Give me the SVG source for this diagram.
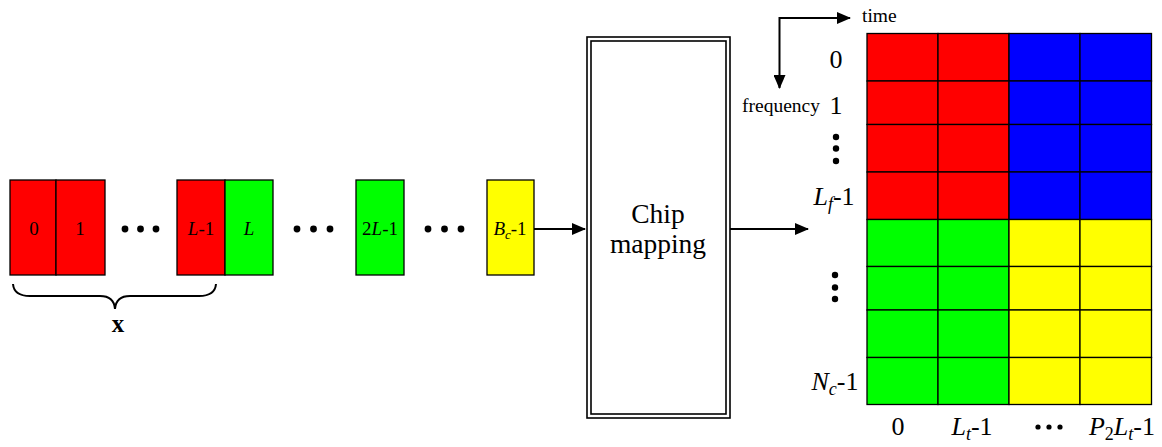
<svg xmlns="http://www.w3.org/2000/svg" width="1162" height="447" viewBox="0 0 1162 447">
<style>
text{font-family:"Liberation Serif","Times New Roman",serif;fill:#000}
.blk{stroke:#000;stroke-width:1.3}
.r{fill:#ff0000}.g{fill:#00ff00}.b{fill:#0000ff}.y{fill:#ffff00}
.s{font-size:19px;text-anchor:middle}
.m{font-size:26px;text-anchor:middle}
.ln{stroke:#000;stroke-width:2;fill:none}
.dot{fill:#000}
</style>
<defs>
<marker id="ahs" markerWidth="14" markerHeight="12" refX="13" refY="6" orient="auto-start-reverse" markerUnits="userSpaceOnUse" viewBox="0 0 14 12">
<path d="M0,0 L14,6 L0,12 z" fill="#000"/>
</marker>
</defs>

<g id="block-0"><rect class="blk r" x="10" y="180" width="46" height="95"/><text class="s" x="34" y="235">0</text></g>
<g id="block-1"><rect class="blk r" x="56" y="180" width="49" height="95"/><text class="s" x="80" y="235">1</text></g>
<g id="dots-1" class="dot"><circle cx="125" cy="229" r="3.4"/><circle cx="140.5" cy="229" r="3.4"/><circle cx="156" cy="229" r="3.4"/></g>
<g id="block-L-1"><rect class="blk r" x="177" y="180" width="48" height="95"/><text class="s" x="201" y="235"><tspan font-style="italic">L</tspan>-1</text></g>
<g id="block-L"><rect class="blk g" x="225" y="180" width="48" height="95"/><text class="s" x="249" y="235" font-style="italic">L</text></g>
<g id="dots-2" class="dot"><circle cx="297" cy="229" r="3.4"/><circle cx="313.5" cy="229" r="3.4"/><circle cx="330" cy="229" r="3.4"/></g>
<g id="block-2L-1"><rect class="blk g" x="356" y="180" width="48" height="95"/><text class="s" x="380" y="235">2<tspan font-style="italic">L</tspan>-1</text></g>
<g id="dots-3" class="dot"><circle cx="428" cy="229" r="3.4"/><circle cx="444.5" cy="229" r="3.4"/><circle cx="461" cy="229" r="3.4"/></g>
<g id="block-Bc-1"><rect class="blk y" x="487" y="180" width="47" height="95"/><text class="s" x="510" y="235"><tspan font-style="italic">B</tspan><tspan font-style="italic" font-size="13" dy="4">c</tspan><tspan dy="-4">-1</tspan></text></g>

<g id="brace-x">
<path class="ln" d="M13,284 Q14,296 30,296 L100,296 Q114,296 115,309 Q116,296 130,296 L199,296 Q215,296 216,284" stroke-width="1.8"/>
<text x="118" y="332" font-size="25" font-weight="bold" text-anchor="middle">x</text>
</g>

<g id="chip-mapping">
<rect x="587" y="37" width="143" height="381" fill="#fff" stroke="#000" stroke-width="1.6"/>
<rect x="591" y="41" width="135" height="373" fill="none" stroke="#000" stroke-width="1.6"/>
<text x="658" y="223" font-size="27.5" text-anchor="middle">Chip</text>
<text x="658" y="253" font-size="27.5" text-anchor="middle">mapping</text>
</g>

<g id="grid">
<rect class="blk r" x="867" y="33.5" width="71" height="47.5"/>
<rect class="blk r" x="938" y="33.5" width="71" height="47.5"/>
<rect class="blk b" x="1009" y="33.5" width="71" height="47.5"/>
<rect class="blk b" x="1080" y="33.5" width="71.5" height="47.5"/>
<rect class="blk r" x="867" y="81" width="71" height="43.5"/>
<rect class="blk r" x="938" y="81" width="71" height="43.5"/>
<rect class="blk b" x="1009" y="81" width="71" height="43.5"/>
<rect class="blk b" x="1080" y="81" width="71.5" height="43.5"/>
<rect class="blk r" x="867" y="124.5" width="71" height="47.5"/>
<rect class="blk r" x="938" y="124.5" width="71" height="47.5"/>
<rect class="blk b" x="1009" y="124.5" width="71" height="47.5"/>
<rect class="blk b" x="1080" y="124.5" width="71.5" height="47.5"/>
<rect class="blk r" x="867" y="172" width="71" height="47.5"/>
<rect class="blk r" x="938" y="172" width="71" height="47.5"/>
<rect class="blk b" x="1009" y="172" width="71" height="47.5"/>
<rect class="blk b" x="1080" y="172" width="71.5" height="47.5"/>
<rect class="blk g" x="867" y="219.5" width="71" height="47"/>
<rect class="blk g" x="938" y="219.5" width="71" height="47"/>
<rect class="blk y" x="1009" y="219.5" width="71" height="47"/>
<rect class="blk y" x="1080" y="219.5" width="71.5" height="47"/>
<rect class="blk g" x="867" y="266.5" width="71" height="43.5"/>
<rect class="blk g" x="938" y="266.5" width="71" height="43.5"/>
<rect class="blk y" x="1009" y="266.5" width="71" height="43.5"/>
<rect class="blk y" x="1080" y="266.5" width="71.5" height="43.5"/>
<rect class="blk g" x="867" y="310" width="71" height="47.5"/>
<rect class="blk g" x="938" y="310" width="71" height="47.5"/>
<rect class="blk y" x="1009" y="310" width="71" height="47.5"/>
<rect class="blk y" x="1080" y="310" width="71.5" height="47.5"/>
<rect class="blk g" x="867" y="357.5" width="71" height="47"/>
<rect class="blk g" x="938" y="357.5" width="71" height="47"/>
<rect class="blk y" x="1009" y="357.5" width="71" height="47"/>
<rect class="blk y" x="1080" y="357.5" width="71.5" height="47"/>
</g>

<g id="row-labels">
<text class="m" x="836" y="68">0</text>
<text class="m" x="836" y="114">1</text>
<g class="dot"><circle cx="836" cy="137" r="3.2"/><circle cx="836" cy="148.5" r="3.2"/><circle cx="836" cy="161" r="3.2"/></g>
<text x="834" y="205" font-size="26" text-anchor="middle"><tspan font-style="italic">L</tspan><tspan font-style="italic" font-size="18" dy="5">f</tspan><tspan dy="-5">-1</tspan></text>
<g class="dot"><circle cx="835" cy="275" r="3.2"/><circle cx="835" cy="287.5" r="3.2"/><circle cx="835" cy="299" r="3.2"/></g>
<text x="835" y="390" font-size="26" text-anchor="middle"><tspan font-style="italic">N</tspan><tspan font-style="italic" font-size="18" dy="5">c</tspan><tspan dy="-5">-1</tspan></text>
</g>

<g id="col-labels">
<text class="m" x="898" y="435">0</text>
<text x="972" y="435" font-size="26" text-anchor="middle"><tspan font-style="italic">L</tspan><tspan font-style="italic" font-size="18" dy="5">t</tspan><tspan dy="-5">-1</tspan></text>
<g class="dot"><circle cx="1038" cy="427" r="2.6"/><circle cx="1049" cy="427" r="2.6"/><circle cx="1060" cy="427" r="2.6"/></g>
<text x="1122" y="435" font-size="26" text-anchor="middle"><tspan font-style="italic">P</tspan><tspan font-size="18" dy="5">2</tspan><tspan font-style="italic" dy="-5">L</tspan><tspan font-style="italic" font-size="18" dy="5">t</tspan><tspan dy="-5">-1</tspan></text>
</g>

<g id="axes">
<text x="862" y="22" font-size="19.5">time</text>
<text x="742" y="112" font-size="19.5">frequency</text>
</g>

<g id="connectors">
<line class="ln" x1="534" y1="229" x2="585" y2="229" marker-end="url(#ahs)"/>
<line class="ln" x1="730" y1="229" x2="808" y2="229" marker-end="url(#ahs)"/>
<polyline class="ln" points="779.5,88 779.5,18 850,18" stroke-width="1.8" marker-start="url(#ahs)" marker-end="url(#ahs)"/>
</g>
</svg>
